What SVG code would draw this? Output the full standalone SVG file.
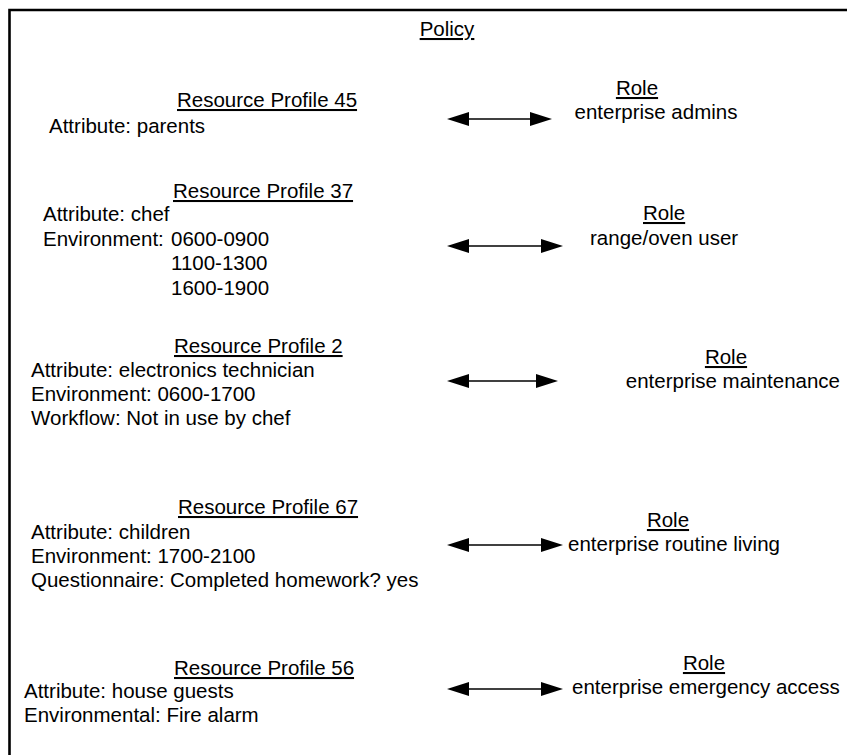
<svg xmlns="http://www.w3.org/2000/svg" width="847" height="755" viewBox="0 0 847 755">
  <defs>
    <!-- solid triangular head; refX leaves the tip 5px past the line end -->
    <marker id="head" viewBox="0 0 22 14" refX="17" refY="7" markerWidth="22" markerHeight="14" markerUnits="userSpaceOnUse" orient="auto-start-reverse">
      <path d="M0,0 L22,7 L0,14 Z" fill="#000"/>
    </marker>
  </defs>
  <style>
    text { font-family: "Liberation Sans", Arial, sans-serif; font-size: 20.5px; fill: #000; }
    .title { text-decoration: underline; }
    .mid { text-anchor: middle; }
    .end { text-anchor: end; }
    .link { stroke: #000; stroke-width: 1.6; fill: none; marker-start: url(#head); marker-end: url(#head); }
    .frame { stroke: #000; stroke-width: 2.6; fill: none; }
  </style>

  <rect width="847" height="755" fill="#fff"/>
  <path class="frame" d="M9.5,755 V10 H847"/>

  <g id="policy">
    <text class="title mid" x="447" y="36">Policy</text>
  </g>

  <!-- resource profiles -->
  <g id="profile-45">
    <text class="title" x="177" y="107">Resource Profile 45</text>
    <text x="49" y="133">Attribute: parents</text>
  </g>
  <g id="profile-37">
    <text class="title" x="173" y="198">Resource Profile 37</text>
    <text x="43" y="221">Attribute: chef</text>
    <text x="43" y="246">Environment:</text>
    <text x="171" y="246">0600-0900</text>
    <text x="171" y="270">1100-1300</text>
    <text x="171" y="295">1600-1900</text>
  </g>
  <g id="profile-2">
    <text class="title" x="174" y="353">Resource Profile 2</text>
    <text x="31" y="377">Attribute: electronics technician</text>
    <text x="31" y="401">Environment: 0600-1700</text>
    <text x="31" y="425">Workflow: Not in use by chef</text>
  </g>
  <g id="profile-67">
    <text class="title" x="178" y="514">Resource Profile 67</text>
    <text x="31" y="539">Attribute: children</text>
    <text x="31" y="563">Environment: 1700-2100</text>
    <text x="31" y="587">Questionnaire: Completed homework? yes</text>
  </g>
  <g id="profile-56">
    <text class="title" x="174" y="675">Resource Profile 56</text>
    <text x="24" y="698">Attribute: house guests</text>
    <text x="24" y="722">Environmental: Fire alarm</text>
  </g>

  <!-- roles -->
  <g id="role-admins">
    <text class="title mid" x="637" y="95">Role</text>
    <text class="mid" x="656" y="119">enterprise admins</text>
  </g>
  <g id="role-range-oven">
    <text class="title" x="643" y="220">Role</text>
    <text x="590" y="245">range/oven user</text>
  </g>
  <g id="role-maintenance">
    <text class="title mid" x="726" y="364">Role</text>
    <text class="end" x="840" y="388">enterprise maintenance</text>
  </g>
  <g id="role-routine-living">
    <text class="title mid" x="668" y="527">Role</text>
    <text x="568" y="551">enterprise routine living</text>
  </g>
  <g id="role-emergency">
    <text class="title mid" x="704" y="670">Role</text>
    <text x="572" y="694">enterprise emergency access</text>
  </g>

  <!-- profile-to-role links -->
  <g id="connectors">
    <line class="link" x1="452" y1="119" x2="547" y2="119"/>
    <line class="link" x1="452" y1="246" x2="558" y2="246"/>
    <line class="link" x1="452" y1="381" x2="553" y2="381"/>
    <line class="link" x1="452" y1="545" x2="558" y2="545"/>
    <line class="link" x1="452" y1="689" x2="558" y2="689"/>
  </g>
</svg>
